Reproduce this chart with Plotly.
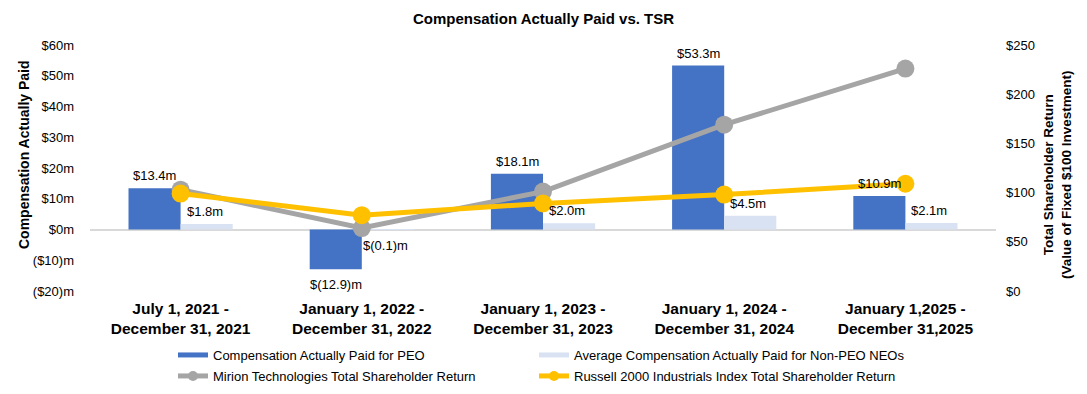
import plotly.graph_objects as go

categories = [
    "July 1, 2021 -<br>December 31, 2021",
    "January 1, 2022 -<br>December 31, 2022",
    "January 1, 2023 -<br>December 31, 2023",
    "January 1, 2024 -<br>December 31, 2024",
    "January 1,2025 -<br>December 31,2025",
]
peo_cap = [13.4, -12.9, 18.1, 53.3, 10.9]
non_peo_cap = [1.8, -0.1, 2.0, 4.5, 2.1]
mirion_tsr = [103, 64, 101, 169, 226]
russell_tsr = [99, 77, 89, 98, 109]

series_names = [
    "Compensation Actually Paid for PEO",
    "Average Compensation Actually Paid for Non-PEO NEOs",
    "Mirion Technologies Total Shareholder Return",
    "Russell 2000 Industrials Index Total Shareholder Return",
]

left_tick_vals = [-20, -10, 0, 10, 20, 30, 40, 50, 60]
left_tick_text = ["($20)m", "($10)m", "$0m", "$10m", "$20m", "$30m", "$40m", "$50m", "$60m"]
right_tick_vals = [0, 50, 100, 150, 200, 250]
right_tick_text = ["$0", "$50", "$100", "$150", "$200", "$250"]


def fmt(v):
    return f"${v:.1f}m" if v >= 0 else f"$({abs(v):.1f})m"


FONT = "Liberation Sans, Arial, sans-serif"
BLUE = "#4472C4"
LIGHT = "#D9E2F3"
GRAY = "#A5A5A5"
GOLD = "#FFC000"
BLACK = "#000000"

fig = go.Figure()
fig.add_trace(go.Bar(x=categories, y=peo_cap, name=series_names[0],
                     marker=dict(color=BLUE, line=dict(width=0)), showlegend=False))
fig.add_trace(go.Bar(x=categories, y=non_peo_cap, name=series_names[1],
                     marker=dict(color=LIGHT, line=dict(width=0)), showlegend=False))
fig.add_trace(go.Scatter(x=categories, y=mirion_tsr, name=series_names[2],
                         mode="lines+markers", yaxis="y2",
                         line=dict(color=GRAY, width=5), marker=dict(color=GRAY, size=18),
                         cliponaxis=False, showlegend=False))
fig.add_trace(go.Scatter(x=categories, y=russell_tsr, name=series_names[3],
                         mode="lines+markers", yaxis="y2",
                         line=dict(color=GOLD, width=5), marker=dict(color=GOLD, size=18),
                         cliponaxis=False, showlegend=False))

# legend-only entries (no data) to mimic the reference legend keys
legend_keys = [
    (series_names[0], BLUE, "lines", "legend"),
    (series_names[1], LIGHT, "lines", "legend2"),
    (series_names[2], GRAY, "lines+markers", "legend3"),
    (series_names[3], GOLD, "lines+markers", "legend4"),
]
for name, color, mode, leg in legend_keys:
    fig.add_trace(go.Scatter(x=[None], y=[None], name=name, mode=mode,
                             line=dict(color=color, width=5),
                             marker=dict(color=color, size=10),
                             legend=leg, showlegend=True, hoverinfo="skip"))

# data labels
annotations = []
for cat, v in zip(categories, peo_cap):
    annotations.append(dict(x=cat, y=v, xref="x", yref="y", text=fmt(v), showarrow=False,
                            xshift=-26, yshift=3 if v >= 0 else -6,
                            yanchor="bottom" if v >= 0 else "top", xanchor="center",
                            font=dict(size=13, family=FONT, color=BLACK)))
for cat, v in zip(categories, non_peo_cap):
    annotations.append(dict(x=cat, y=v, xref="x", yref="y", text=fmt(v), showarrow=False,
                            xshift=24, yshift=3 if v >= 0 else -6,
                            yanchor="bottom" if v >= 0 else "top", xanchor="center",
                            font=dict(size=13, family=FONT, color=BLACK)))

annotations += [
    dict(text="<b>Compensation Actually Paid</b>", textangle=-90,
         xref="paper", yref="paper", x=(24 - 90) / 906, y=(291 - 155) / 246,
         xanchor="center", yanchor="middle", showarrow=False,
         font=dict(size=14, family=FONT, color=BLACK)),
    dict(text="<b>Total Shareholder Return<br>(Value of Fixed $100 Investment)</b>", textangle=-90,
         xref="paper", yref="paper", x=(1057 - 90) / 906, y=(291 - 175) / 246,
         xanchor="center", yanchor="middle", showarrow=False,
         font=dict(size=13.5, family=FONT, color=BLACK)),
]

leg_font = dict(size=13, color=BLACK, family=FONT)


def legend_at(xpx, ypx):
    return dict(x=(xpx - 90) / 906, y=(291 - ypx) / 246, xanchor="left", yanchor="middle",
                orientation="h", font=leg_font, bgcolor="rgba(0,0,0,0)", borderwidth=0)


fig.update_layout(
    template="none",
    width=1087, height=394,
    margin=dict(l=90, r=91, t=45, b=103, autoexpand=False),
    paper_bgcolor="white", plot_bgcolor="white",
    font=dict(family=FONT, color=BLACK),
    barmode="group", bargap=0.425, bargroupgap=0,
    showlegend=True,
    hovermode=False,
    title=dict(text="<b>Compensation Actually Paid vs. TSR</b>", x=0.5, xanchor="center",
               y=1 - 19 / 394, yanchor="middle", font=dict(size=15, family=FONT, color=BLACK)),
    xaxis=dict(showgrid=False, showline=False, ticks="", zeroline=False, ticklabelstandoff=6,
               tickfont=dict(size=15.5, family=FONT, color=BLACK, weight="bold")),
    yaxis=dict(range=[-20, 60], tickvals=left_tick_vals, ticktext=left_tick_text,
               showgrid=False, zeroline=True, zerolinecolor="#D9D9D9", zerolinewidth=2,
               showline=False, ticks="", ticklabelstandoff=15,
               tickfont=dict(size=13, family=FONT, color=BLACK)),
    yaxis2=dict(range=[0, 250], tickvals=right_tick_vals, ticktext=right_tick_text,
                overlaying="y", side="right", showgrid=False, zeroline=False,
                showline=False, ticks="", ticklabelstandoff=9,
                tickfont=dict(size=13, family=FONT, color=BLACK)),
    legend=legend_at(173, 355),
    legend2=legend_at(534, 355),
    legend3=legend_at(173, 376),
    legend4=legend_at(534, 376),
    annotations=annotations,
)

fig.write_html("out.html", post_script="document.body.style.margin='0';",
               config={"displayModeBar": False})
